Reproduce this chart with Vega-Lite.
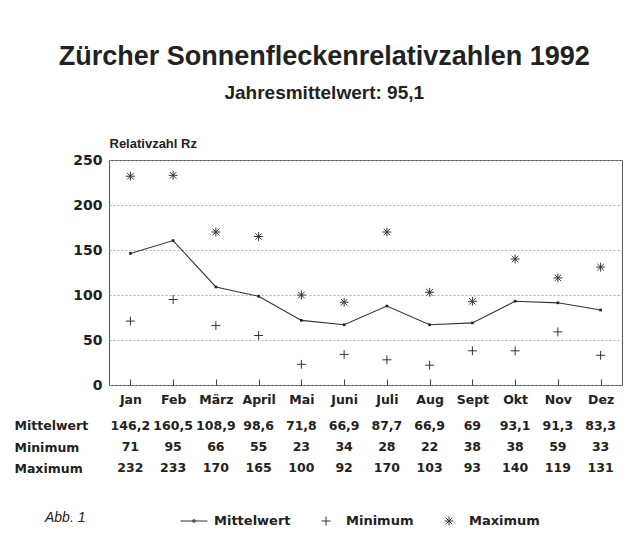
{
  "$schema": "https://vega.github.io/schema/vega-lite/v6.json",
  "background": "white",
  "padding": {"left": 14, "top": 42, "right": 10, "bottom": 10},
  "bounds": "flush",
  "spacing": 30,
  "title": {
    "text": "Zürcher Sonnenfleckenrelativzahlen 1992",
    "subtitle": "Jahresmittelwert: 95,1",
    "anchor": "middle",
    "frame": "bounds",
    "dx": 6,
    "font": "Liberation Sans",
    "fontSize": 27,
    "fontWeight": "bold",
    "color": "#222",
    "subtitleFont": "Liberation Sans",
    "subtitleFontSize": 19,
    "subtitleFontWeight": "bold",
    "subtitleColor": "#222",
    "subtitlePadding": 13,
    "offset": 33
  },
  "datasets": {
    "sonne": [
      {"Monat": "Jan", "Mittelwert": 146.2, "Minimum": 71, "Maximum": 232},
      {"Monat": "Feb", "Mittelwert": 160.5, "Minimum": 95, "Maximum": 233},
      {"Monat": "März", "Mittelwert": 108.9, "Minimum": 66, "Maximum": 170},
      {"Monat": "April", "Mittelwert": 98.6, "Minimum": 55, "Maximum": 165},
      {"Monat": "Mai", "Mittelwert": 71.8, "Minimum": 23, "Maximum": 100},
      {"Monat": "Juni", "Mittelwert": 66.9, "Minimum": 34, "Maximum": 92},
      {"Monat": "Juli", "Mittelwert": 87.7, "Minimum": 28, "Maximum": 170},
      {"Monat": "Aug", "Mittelwert": 66.9, "Minimum": 22, "Maximum": 103},
      {"Monat": "Sept", "Mittelwert": 69, "Minimum": 38, "Maximum": 93},
      {"Monat": "Okt", "Mittelwert": 93.1, "Minimum": 38, "Maximum": 140},
      {"Monat": "Nov", "Mittelwert": 91.3, "Minimum": 59, "Maximum": 119},
      {"Monat": "Dez", "Mittelwert": 83.3, "Minimum": 33, "Maximum": 131}
    ]
  },
  "data": {"name": "sonne"},
  "resolve": {"scale": {"x": "shared"}},
  "vconcat": [
    {
      "width": 513,
      "height": 225,
      "layer": [
        {
          "mark": {"type": "line", "color": "#333", "strokeWidth": 1.1,
                   "point": {"filled": true, "shape": "square", "size": 7, "color": "#222"}},
          "encoding": {
            "x": {"field": "Monat", "type": "nominal", "sort": null,
                  "axis": {"title": null, "labelAngle": 0, "domain": false, "ticks": true, "tickSize": -6,
                           "tickColor": "#444", "tickWidth": 1, "grid": false,
                           "labelFont": "DejaVu Sans", "labelFontWeight": "bold", "labelFontSize": 12.5,
                           "labelColor": "#222", "labelPadding": 14}},
            "y": {"field": "Mittelwert", "type": "quantitative", "scale": {"domain": [0, 250], "nice": false},
                  "axis": {"title": "Relativzahl Rz", "values": [0, 50, 100, 150, 200, 250],
                           "grid": true, "gridDash": [2, 2], "gridColor": "#999", "gridWidth": 0.8,
                           "domain": false, "ticks": false,
                           "labelFont": "DejaVu Sans", "labelFontWeight": "bold", "labelFontSize": 14,
                           "labelColor": "#222", "labelPadding": 7,
                           "titleAngle": 0, "titleX": 0, "titleY": -13, "titleAlign": "left",
                           "titleBaseline": "alphabetic", "titleFont": "Liberation Sans",
                           "titleFontSize": 13, "titleFontWeight": "bold", "titleColor": "#222"}}
          }
        },
        {
          "transform": [{"fold": ["Minimum", "Maximum"], "as": ["Reihe", "Wert"]}],
          "mark": {"type": "point", "filled": false, "size": 729, "strokeWidth": 1, "color": "#333", "opacity": 1},
          "encoding": {
            "x": {"field": "Monat", "type": "nominal", "sort": null},
            "y": {"field": "Wert", "type": "quantitative"},
            "shape": {
              "field": "Reihe", "type": "nominal",
              "scale": {
                "domain": ["Mittelwert", "Minimum", "Maximum"],
                "range": [
                  "M-1,0H1M-0.08,-0.08H0.08V0.08H-0.08Z",
                  "M-0.33,0H0.33M0,-0.33V0.33",
                  "M-0.33,0H0.33M0,-0.33V0.33M-0.24,-0.24L0.24,0.24M-0.24,0.24L0.24,-0.24"
                ]
              },
              "legend": {
                "orient": "none", "legendX": -64, "legendY": 347,
                "direction": "horizontal", "columns": 3,
                "title": "Abb. 1", "titleOrient": "left",
                "titleFont": "Liberation Sans", "titleFontStyle": "italic", "titleFontWeight": "normal",
                "titleFontSize": 14, "titleColor": "#222", "titlePadding": 94,
                "titleBaseline": "middle", "titleAnchor": "middle",
                "labelFont": "DejaVu Sans", "labelFontWeight": "bold", "labelFontSize": 13,
                "labelColor": "#222", "labelOffset": 6, "columnPadding": 21,
                "symbolSize": 729, "symbolStrokeWidth": 1, "symbolStrokeColor": "#333"
              }
            }
          }
        }
      ]
    },
    {
      "width": 513,
      "height": 64,
      "view": {"stroke": null},
      "transform": [{"fold": ["Mittelwert", "Minimum", "Maximum"], "as": ["Reihe", "Wert"]}],
      "mark": {"type": "text", "font": "DejaVu Sans", "fontWeight": "bold", "fontSize": 12.5, "color": "#222"},
      "encoding": {
        "x": {"field": "Monat", "type": "nominal", "sort": null, "axis": null},
        "y": {"field": "Reihe", "type": "nominal", "sort": ["Mittelwert", "Minimum", "Maximum"],
              "axis": {"title": null, "domain": false, "ticks": false, "tickSize": 0, "labelAlign": "left",
                       "labelPadding": 95, "labelFont": "DejaVu Sans", "labelFontWeight": "bold",
                       "labelFontSize": 12.5, "labelColor": "#222"}},
        "text": {"field": "Wert", "type": "quantitative", "format": "~g"}
      }
    }
  ],
  "config": {
    "view": {"stroke": "#555", "strokeWidth": 1},
    "locale": {"number": {"decimal": ",", "thousands": ".", "grouping": [3], "currency": ["", " €"]}}
  }
}
